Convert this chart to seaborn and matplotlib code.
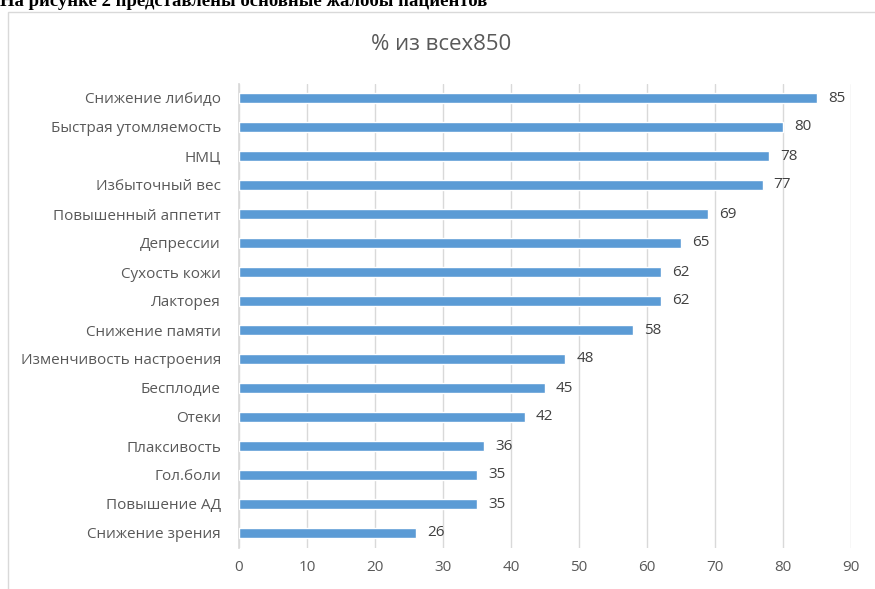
import matplotlib
matplotlib.use("Agg")
import matplotlib.pyplot as plt
import seaborn as sns
import pandas as pd
from matplotlib.patches import Rectangle

categories = ["Снижение либидо", "Быстрая утомляемость", "НМЦ", "Избыточный вес",
              "Повышенный аппетит", "Депрессии", "Сухость кожи", "Лакторея",
              "Снижение памяти", "Изменчивость настроения", "Бесплодие", "Отеки",
              "Плаксивость", "Гол.боли", "Повышение АД", "Снижение зрения"]
values = [85, 80, 78, 77, 69, 65, 62, 62, 58, 48, 45, 42, 36, 35, 35, 26]
xticks = [0, 10, 20, 30, 40, 50, 60, 70, 80, 90]
title = "% из всех850"
caption = "На рисунке 2 представлены основные жалобы пациентов"

sns.set_theme(style="white")
plt.rcParams['font.family'] = ['Open Sans', 'DejaVu Sans']

df = pd.DataFrame({"cat": categories, "val": values})

fig = plt.figure(figsize=(8.75, 5.89), dpi=100)
ax = fig.add_axes([239/875, 1-547.5/589, (851-239)/875, (547.5-83.5)/589])

sns.barplot(data=df, x="val", y="cat", color="#5B9BD5", width=0.36, ax=ax,
            saturation=1, orient="h")
ax.bar_label(ax.containers[0], padding=8, fontsize=11, color="#404040")

ax.set_xlim(0, 90)
ax.set_ylim(15.5, -0.5)
ax.set_xticks(xticks)
ax.set_xticklabels([str(t) for t in xticks])
ax.xaxis.grid(True, color="#d9d9d9", linewidth=1)
ax.set_axisbelow(True)
for s in ["top", "right", "bottom"]:
    ax.spines[s].set_visible(False)
ax.spines["left"].set_color("#d9d9d9")
ax.spines["left"].set_zorder(0.5)
ax.tick_params(axis="both", length=0, labelsize=11, colors="#595959")
ax.tick_params(axis="x", pad=9)
ax.tick_params(axis="y", pad=13)
ax.set_xlabel("")
ax.set_ylabel("")

fig.text(441/875, 1-45/589, title, ha="center", va="center", fontsize=16, color="#595959")
fig.text(0.0, 1-6/589, caption, ha="left", va="baseline", fontsize=13.5,
         fontweight="bold", family=["Liberation Serif", "DejaVu Serif"], color="black")

fig.add_artist(Rectangle((8/875, -0.1), 1.2, 1-12/589+0.1, transform=fig.transFigure,
                         fill=False, edgecolor="#d9d9d9", linewidth=1))

fig.savefig("out.png", dpi=100)
